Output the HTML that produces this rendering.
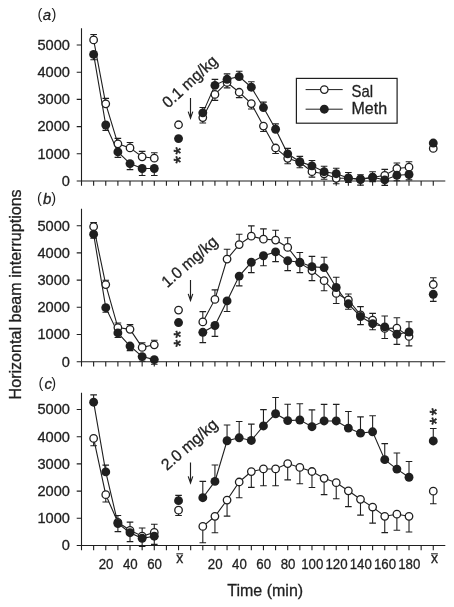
<!DOCTYPE html>
<html><head><meta charset="utf-8"><title>Figure</title>
<style>html,body{margin:0;padding:0;background:#fff}svg{display:block}</style></head>
<body>
<svg width="454" height="607" viewBox="0 0 454 607" font-family="'Liberation Sans', sans-serif" fill="#1f1f1f" stroke="#1f1f1f" stroke-width="0">
<style>text{stroke:#1f1f1f;stroke-width:0.3px}</style>
<rect width="454" height="607" fill="#fff"/>
<g stroke="#1f1f1f" stroke-width="1.1" fill="none">
<path d="M81.50 28.14V181.00H445.3"/>
<path d="M81.50 181.00v4.8M93.63 181.00v4.8M105.76 181.00v4.8M117.89 181.00v4.8M130.02 181.00v4.8M142.15 181.00v4.8M154.28 181.00v4.8M166.41 181.00v4.8M178.54 181.00v4.8M190.67 181.00v4.8M202.80 181.00v4.8M214.93 181.00v4.8M227.06 181.00v4.8M239.19 181.00v4.8M251.32 181.00v4.8M263.45 181.00v4.8M275.58 181.00v4.8M287.71 181.00v4.8M299.84 181.00v4.8M311.97 181.00v4.8M324.10 181.00v4.8M336.23 181.00v4.8M348.36 181.00v4.8M360.49 181.00v4.8M372.62 181.00v4.8M384.75 181.00v4.8M396.88 181.00v4.8M409.01 181.00v4.8M421.14 181.00v4.8M433.27 181.00v4.8M81.50 181.00h-4.8M81.50 153.80h-4.8M81.50 126.60h-4.8M81.50 99.40h-4.8M81.50 72.20h-4.8M81.50 45.00h-4.8"/>
</g>
<text transform="translate(69.9 185.80) scale(0.975 1)" font-size="15" text-anchor="end">0</text>
<text transform="translate(69.9 158.60) scale(0.975 1)" font-size="15" text-anchor="end">1000</text>
<text transform="translate(69.9 131.40) scale(0.975 1)" font-size="15" text-anchor="end">2000</text>
<text transform="translate(69.9 104.20) scale(0.975 1)" font-size="15" text-anchor="end">3000</text>
<text transform="translate(69.9 77.00) scale(0.975 1)" font-size="15" text-anchor="end">4000</text>
<text transform="translate(69.9 49.80) scale(0.975 1)" font-size="15" text-anchor="end">5000</text>
<text x="37.60" y="19.40" font-size="14.6" style="stroke-width:0">(</text>
<text x="47.00" y="20.40" font-size="15" font-style="italic" text-anchor="middle">a</text>
<text x="56.40" y="19.40" font-size="14.6" text-anchor="end" style="stroke-width:0">)</text>
<g stroke="#1f1f1f" stroke-width="1.1" fill="none">
<path d="M93.63 39.91V34.49M90.33 34.49h6.60M93.63 54.40V59.82M90.33 59.82h6.60M105.76 103.81V98.39M102.46 98.39h6.60M105.76 125.00V130.42M102.46 130.42h6.60M117.89 143.81V138.39M114.59 138.39h6.60M117.89 151.91V157.33M114.59 157.33h6.60M130.02 147.90V142.48M126.72 142.48h6.60M130.02 163.62V169.58M126.72 169.58h6.60M142.15 156.81V151.39M138.85 151.39h6.60M142.15 168.52V175.57M138.85 175.57h6.60M154.28 158.20V152.78M150.98 152.78h6.60M154.28 168.52V175.57M150.98 175.57h6.60M202.80 117.60V123.02M199.50 123.02h6.60M202.80 112.86V107.44M199.50 107.44h6.60M214.93 94.40V100.37M211.63 100.37h6.60M214.93 85.38V79.42M211.63 79.42h6.60M227.06 82.48V87.90M223.76 87.90h6.60M227.06 79.31V73.89M223.76 73.89h6.60M239.19 92.24V97.66M235.89 97.66h6.60M239.19 76.65V71.23M235.89 71.23h6.60M251.32 103.62V109.04M248.02 109.04h6.60M251.32 87.22V81.80M248.02 81.80h6.60M263.45 126.08V131.50M260.15 131.50h6.60M263.45 107.57V102.15M260.15 102.15h6.60M275.58 148.01V153.43M272.28 153.43h6.60M275.58 129.25V123.83M272.28 123.83h6.60M287.71 158.33V163.75M284.41 163.75h6.60M287.71 153.83V148.41M284.41 148.41h6.60M299.84 162.29V167.71M296.54 167.71h6.60M299.84 161.77V156.35M296.54 156.35h6.60M311.97 171.69V177.11M308.67 177.11h6.60M311.97 165.87V160.45M308.67 160.45h6.60M324.10 173.81V179.23M320.80 179.23h6.60M324.10 171.69V166.27M320.80 166.27h6.60M336.23 178.30V183.72M332.93 183.72h6.60M336.23 173.72V168.31M332.93 168.31h6.60M348.36 178.30V182.37M345.06 182.37h6.60M348.36 177.93V172.51M345.06 172.51h6.60M360.49 178.87V174.81M357.19 174.81h6.60M360.49 179.69V185.11M357.19 185.11h6.60M372.62 177.52V181.58M369.32 181.58h6.60M372.62 177.11V171.69M369.32 171.69h6.60M384.75 175.35V169.39M381.45 169.39h6.60M384.75 179.96V185.38M381.45 185.38h6.60M396.88 168.49V163.07M393.58 163.07h6.60M396.88 175.30V180.72M393.58 180.72h6.60M409.01 167.22V161.80M405.71 161.80h6.60M409.01 174.48V179.90M405.71 179.90h6.60"/>
<polyline points="93.63,39.91 105.76,103.81 117.89,143.81 130.02,147.90 142.15,156.81 154.28,158.20"/>
<polyline points="202.80,117.60 214.93,94.40 227.06,82.48 239.19,92.24 251.32,103.62 263.45,126.08 275.58,148.01 287.71,158.33 299.84,162.29 311.97,171.69 324.10,173.81 336.23,178.30 348.36,178.30 360.49,178.87 372.62,177.52 384.75,175.35 396.88,168.49 409.01,167.22"/>
<polyline points="93.63,54.40 105.76,125.00 117.89,151.91 130.02,163.62 142.15,168.52 154.28,168.52"/>
<polyline points="202.80,112.86 214.93,85.38 227.06,79.31 239.19,76.65 251.32,87.22 263.45,107.57 275.58,129.25 287.71,153.83 299.84,161.77 311.97,165.87 324.10,171.69 336.23,173.72 348.36,177.93 360.49,179.69 372.62,177.11 384.75,179.96 396.88,175.30 409.01,174.48"/>
</g>
<g fill="#fff" stroke="#1f1f1f" stroke-width="1.3">
<circle cx="93.63" cy="39.91" r="3.75"/>
<circle cx="105.76" cy="103.81" r="3.75"/>
<circle cx="117.89" cy="143.81" r="3.75"/>
<circle cx="130.02" cy="147.90" r="3.75"/>
<circle cx="142.15" cy="156.81" r="3.75"/>
<circle cx="154.28" cy="158.20" r="3.75"/>
<circle cx="178.54" cy="124.76" r="3.75"/>
<circle cx="202.80" cy="117.60" r="3.75"/>
<circle cx="214.93" cy="94.40" r="3.75"/>
<circle cx="227.06" cy="82.48" r="3.75"/>
<circle cx="239.19" cy="92.24" r="3.75"/>
<circle cx="251.32" cy="103.62" r="3.75"/>
<circle cx="263.45" cy="126.08" r="3.75"/>
<circle cx="275.58" cy="148.01" r="3.75"/>
<circle cx="287.71" cy="158.33" r="3.75"/>
<circle cx="299.84" cy="162.29" r="3.75"/>
<circle cx="311.97" cy="171.69" r="3.75"/>
<circle cx="324.10" cy="173.81" r="3.75"/>
<circle cx="336.23" cy="178.30" r="3.75"/>
<circle cx="348.36" cy="178.30" r="3.75"/>
<circle cx="360.49" cy="178.87" r="3.75"/>
<circle cx="372.62" cy="177.52" r="3.75"/>
<circle cx="384.75" cy="175.35" r="3.75"/>
<circle cx="396.88" cy="168.49" r="3.75"/>
<circle cx="409.01" cy="167.22" r="3.75"/>
<circle cx="433.27" cy="148.39" r="3.75"/>
</g>
<g fill="#1f1f1f">
<circle cx="93.63" cy="54.40" r="4.45"/>
<circle cx="105.76" cy="125.00" r="4.45"/>
<circle cx="117.89" cy="151.91" r="4.45"/>
<circle cx="130.02" cy="163.62" r="4.45"/>
<circle cx="142.15" cy="168.52" r="4.45"/>
<circle cx="154.28" cy="168.52" r="4.45"/>
<circle cx="178.54" cy="138.60" r="4.45"/>
<circle cx="202.80" cy="112.86" r="4.45"/>
<circle cx="214.93" cy="85.38" r="4.45"/>
<circle cx="227.06" cy="79.31" r="4.45"/>
<circle cx="239.19" cy="76.65" r="4.45"/>
<circle cx="251.32" cy="87.22" r="4.45"/>
<circle cx="263.45" cy="107.57" r="4.45"/>
<circle cx="275.58" cy="129.25" r="4.45"/>
<circle cx="287.71" cy="153.83" r="4.45"/>
<circle cx="299.84" cy="161.77" r="4.45"/>
<circle cx="311.97" cy="165.87" r="4.45"/>
<circle cx="324.10" cy="171.69" r="4.45"/>
<circle cx="336.23" cy="173.72" r="4.45"/>
<circle cx="348.36" cy="177.93" r="4.45"/>
<circle cx="360.49" cy="179.69" r="4.45"/>
<circle cx="372.62" cy="177.11" r="4.45"/>
<circle cx="384.75" cy="179.96" r="4.45"/>
<circle cx="396.88" cy="175.30" r="4.45"/>
<circle cx="409.01" cy="174.48" r="4.45"/>
<circle cx="433.27" cy="143.07" r="4.45"/>
</g>
<g stroke="#1f1f1f" stroke-width="1.1" fill="none">
<path d="M81.50 208.84V361.70H445.3"/>
<path d="M81.50 361.70v4.8M93.63 361.70v4.8M105.76 361.70v4.8M117.89 361.70v4.8M130.02 361.70v4.8M142.15 361.70v4.8M154.28 361.70v4.8M166.41 361.70v4.8M178.54 361.70v4.8M190.67 361.70v4.8M202.80 361.70v4.8M214.93 361.70v4.8M227.06 361.70v4.8M239.19 361.70v4.8M251.32 361.70v4.8M263.45 361.70v4.8M275.58 361.70v4.8M287.71 361.70v4.8M299.84 361.70v4.8M311.97 361.70v4.8M324.10 361.70v4.8M336.23 361.70v4.8M348.36 361.70v4.8M360.49 361.70v4.8M372.62 361.70v4.8M384.75 361.70v4.8M396.88 361.70v4.8M409.01 361.70v4.8M421.14 361.70v4.8M433.27 361.70v4.8M81.50 361.70h-4.8M81.50 334.50h-4.8M81.50 307.30h-4.8M81.50 280.10h-4.8M81.50 252.90h-4.8M81.50 225.70h-4.8"/>
</g>
<text transform="translate(69.9 366.50) scale(0.975 1)" font-size="15" text-anchor="end">0</text>
<text transform="translate(69.9 339.30) scale(0.975 1)" font-size="15" text-anchor="end">1000</text>
<text transform="translate(69.9 312.10) scale(0.975 1)" font-size="15" text-anchor="end">2000</text>
<text transform="translate(69.9 284.90) scale(0.975 1)" font-size="15" text-anchor="end">3000</text>
<text transform="translate(69.9 257.70) scale(0.975 1)" font-size="15" text-anchor="end">4000</text>
<text transform="translate(69.9 230.50) scale(0.975 1)" font-size="15" text-anchor="end">5000</text>
<text x="36.90" y="203.30" font-size="14.6" style="stroke-width:0">(</text>
<text x="47.20" y="204.30" font-size="15" font-style="italic" text-anchor="middle">b</text>
<text x="56.10" y="203.30" font-size="14.6" text-anchor="end" style="stroke-width:0">)</text>
<g stroke="#1f1f1f" stroke-width="1.1" fill="none">
<path d="M93.63 226.71V222.64M90.33 222.64h6.60M93.63 234.16V238.23M90.33 238.23h6.60M105.76 284.56V280.22M102.46 280.22h6.60M105.76 307.70V312.32M102.46 312.32h6.60M117.89 327.59V322.97M114.59 322.97h6.60M117.89 332.91V337.53M114.59 337.53h6.60M130.02 329.35V324.60M126.72 324.60h6.60M130.02 346.03V350.64M126.72 350.64h6.60M142.15 347.39V342.77M138.85 342.77h6.60M142.15 356.62V361.24M138.85 361.24h6.60M154.28 344.81V340.19M150.98 340.19h6.60M154.28 359.61V364.22M150.98 364.22h6.60M202.80 321.94V311.62M199.50 311.62h6.60M202.80 332.31V342.63M199.50 342.63h6.60M214.93 299.39V289.89M211.63 289.89h6.60M214.93 325.49V336.36M211.63 336.36h6.60M227.06 259.06V249.28M223.76 249.28h6.60M227.06 300.91V311.51M223.76 311.51h6.60M239.19 244.61V234.29M235.89 234.29h6.60M239.19 276.12V285.90M235.89 285.90h6.60M251.32 236.19V225.87M248.02 225.87h6.60M251.32 262.27V272.59M248.02 272.59h6.60M263.45 239.15V228.83M260.15 228.83h6.60M263.45 255.75V265.80M260.15 265.80h6.60M275.58 240.05V230.27M272.28 230.27h6.60M275.58 251.89V261.67M272.28 261.67h6.60M287.71 247.46V237.69M284.41 237.69h6.60M287.71 260.80V270.58M284.41 270.58h6.60M299.84 262.86V272.64M296.54 272.64h6.60M299.84 262.27V252.49M296.54 252.49h6.60M311.97 270.58V280.63M308.67 280.63h6.60M311.97 266.72V256.40M308.67 256.40h6.60M324.10 280.65V290.70M320.80 290.70h6.60M324.10 267.62V257.30M320.80 257.30h6.60M336.23 293.39V303.44M332.93 303.44h6.60M336.23 287.50V277.18M332.93 277.18h6.60M348.36 299.91V293.93M345.06 293.93h6.60M348.36 303.79V309.23M345.06 309.23h6.60M360.49 314.79V306.65M357.19 306.65h6.60M360.49 316.50V324.65M357.19 324.65h6.60M372.62 320.12V313.33M369.32 313.33h6.60M372.62 323.70V329.68M369.32 329.68h6.60M384.75 328.40V338.45M381.45 338.45h6.60M384.75 326.91V316.04M381.45 316.04h6.60M396.88 328.10V317.78M393.58 317.78h6.60M396.88 334.29V344.34M393.58 344.34h6.60M409.01 336.41V345.92M405.71 345.92h6.60M409.01 332.01V321.69M405.71 321.69h6.60M433.27 284.51V277.72M429.97 277.72h6.60M433.27 294.29V301.35M429.97 301.35h6.60"/>
<polyline points="93.63,226.71 105.76,284.56 117.89,327.59 130.02,329.35 142.15,347.39 154.28,344.81"/>
<polyline points="202.80,321.94 214.93,299.39 227.06,259.06 239.19,244.61 251.32,236.19 263.45,239.15 275.58,240.05 287.71,247.46 299.84,262.86 311.97,270.58 324.10,280.65 336.23,293.39 348.36,299.91 360.49,314.79 372.62,320.12 384.75,328.40 396.88,328.10 409.01,336.41"/>
<polyline points="93.63,234.16 105.76,307.70 117.89,332.91 130.02,346.03 142.15,356.62 154.28,359.61"/>
<polyline points="202.80,332.31 214.93,325.49 227.06,300.91 239.19,276.12 251.32,262.27 263.45,255.75 275.58,251.89 287.71,260.80 299.84,262.27 311.97,266.72 324.10,267.62 336.23,287.50 348.36,303.79 360.49,316.50 372.62,323.70 384.75,326.91 396.88,334.29 409.01,332.01"/>
</g>
<g fill="#fff" stroke="#1f1f1f" stroke-width="1.3">
<circle cx="93.63" cy="226.71" r="3.75"/>
<circle cx="105.76" cy="284.56" r="3.75"/>
<circle cx="117.89" cy="327.59" r="3.75"/>
<circle cx="130.02" cy="329.35" r="3.75"/>
<circle cx="142.15" cy="347.39" r="3.75"/>
<circle cx="154.28" cy="344.81" r="3.75"/>
<circle cx="178.54" cy="310.12" r="3.75"/>
<circle cx="202.80" cy="321.94" r="3.75"/>
<circle cx="214.93" cy="299.39" r="3.75"/>
<circle cx="227.06" cy="259.06" r="3.75"/>
<circle cx="239.19" cy="244.61" r="3.75"/>
<circle cx="251.32" cy="236.19" r="3.75"/>
<circle cx="263.45" cy="239.15" r="3.75"/>
<circle cx="275.58" cy="240.05" r="3.75"/>
<circle cx="287.71" cy="247.46" r="3.75"/>
<circle cx="299.84" cy="262.86" r="3.75"/>
<circle cx="311.97" cy="270.58" r="3.75"/>
<circle cx="324.10" cy="280.65" r="3.75"/>
<circle cx="336.23" cy="293.39" r="3.75"/>
<circle cx="348.36" cy="299.91" r="3.75"/>
<circle cx="360.49" cy="314.79" r="3.75"/>
<circle cx="372.62" cy="320.12" r="3.75"/>
<circle cx="384.75" cy="328.40" r="3.75"/>
<circle cx="396.88" cy="328.10" r="3.75"/>
<circle cx="409.01" cy="336.41" r="3.75"/>
<circle cx="433.27" cy="284.51" r="3.75"/>
</g>
<g fill="#1f1f1f">
<circle cx="93.63" cy="234.16" r="4.45"/>
<circle cx="105.76" cy="307.70" r="4.45"/>
<circle cx="117.89" cy="332.91" r="4.45"/>
<circle cx="130.02" cy="346.03" r="4.45"/>
<circle cx="142.15" cy="356.62" r="4.45"/>
<circle cx="154.28" cy="359.61" r="4.45"/>
<circle cx="178.54" cy="322.53" r="4.45"/>
<circle cx="202.80" cy="332.31" r="4.45"/>
<circle cx="214.93" cy="325.49" r="4.45"/>
<circle cx="227.06" cy="300.91" r="4.45"/>
<circle cx="239.19" cy="276.12" r="4.45"/>
<circle cx="251.32" cy="262.27" r="4.45"/>
<circle cx="263.45" cy="255.75" r="4.45"/>
<circle cx="275.58" cy="251.89" r="4.45"/>
<circle cx="287.71" cy="260.80" r="4.45"/>
<circle cx="299.84" cy="262.27" r="4.45"/>
<circle cx="311.97" cy="266.72" r="4.45"/>
<circle cx="324.10" cy="267.62" r="4.45"/>
<circle cx="336.23" cy="287.50" r="4.45"/>
<circle cx="348.36" cy="303.79" r="4.45"/>
<circle cx="360.49" cy="316.50" r="4.45"/>
<circle cx="372.62" cy="323.70" r="4.45"/>
<circle cx="384.75" cy="326.91" r="4.45"/>
<circle cx="396.88" cy="334.29" r="4.45"/>
<circle cx="409.01" cy="332.01" r="4.45"/>
<circle cx="433.27" cy="294.29" r="4.45"/>
</g>
<g stroke="#1f1f1f" stroke-width="1.1" fill="none">
<path d="M81.50 392.64V545.50H445.3"/>
<path d="M81.50 545.50v4.8M93.63 545.50v4.8M105.76 545.50v4.8M117.89 545.50v4.8M130.02 545.50v4.8M142.15 545.50v4.8M154.28 545.50v4.8M166.41 545.50v4.8M178.54 545.50v4.8M190.67 545.50v4.8M202.80 545.50v4.8M214.93 545.50v4.8M227.06 545.50v4.8M239.19 545.50v4.8M251.32 545.50v4.8M263.45 545.50v4.8M275.58 545.50v4.8M287.71 545.50v4.8M299.84 545.50v4.8M311.97 545.50v4.8M324.10 545.50v4.8M336.23 545.50v4.8M348.36 545.50v4.8M360.49 545.50v4.8M372.62 545.50v4.8M384.75 545.50v4.8M396.88 545.50v4.8M409.01 545.50v4.8M421.14 545.50v4.8M433.27 545.50v4.8M81.50 545.50h-4.8M81.50 518.30h-4.8M81.50 491.10h-4.8M81.50 463.90h-4.8M81.50 436.70h-4.8M81.50 409.50h-4.8"/>
</g>
<text transform="translate(69.9 550.30) scale(0.975 1)" font-size="15" text-anchor="end">0</text>
<text transform="translate(69.9 523.10) scale(0.975 1)" font-size="15" text-anchor="end">1000</text>
<text transform="translate(69.9 495.90) scale(0.975 1)" font-size="15" text-anchor="end">2000</text>
<text transform="translate(69.9 468.70) scale(0.975 1)" font-size="15" text-anchor="end">3000</text>
<text transform="translate(69.9 441.50) scale(0.975 1)" font-size="15" text-anchor="end">4000</text>
<text transform="translate(69.9 414.30) scale(0.975 1)" font-size="15" text-anchor="end">5000</text>
<text x="38.40" y="387.80" font-size="14.6" style="stroke-width:0">(</text>
<text x="48.20" y="388.80" font-size="15" font-style="italic" text-anchor="middle">c</text>
<text x="56.10" y="387.80" font-size="14.6" text-anchor="end" style="stroke-width:0">)</text>
<g stroke="#1f1f1f" stroke-width="1.1" fill="none">
<path d="M93.63 438.39V445.73M90.33 445.73h6.60M93.63 402.21V394.87M90.33 394.87h6.60M105.76 494.72V502.06M102.46 502.06h6.60M105.76 471.90V465.10M102.46 465.10h6.60M117.89 522.30V515.50M114.59 515.50h6.60M117.89 523.50V531.66M114.59 531.66h6.60M130.02 530.30V522.14M126.72 522.14h6.60M130.02 532.69V541.66M126.72 541.66h6.60M142.15 536.22V528.06M138.85 528.06h6.60M142.15 538.32V546.48M138.85 546.48h6.60M154.28 532.39V524.23M150.98 524.23h6.60M154.28 536.22V544.38M150.98 544.38h6.60M178.54 510.14V515.44M175.24 515.44h6.60M178.54 500.65V495.34M175.24 495.34h6.60M202.80 526.46V542.78M199.50 542.78h6.60M202.80 497.71V481.39M199.50 481.39h6.60M214.93 516.37V532.69M211.63 532.69h6.60M214.93 481.39V465.07M211.63 465.07h6.60M227.06 500.05V516.10M223.76 516.10h6.60M227.06 440.75V424.98M223.76 424.98h6.60M239.19 481.99V497.76M235.89 497.76h6.60M239.19 437.79V421.47M235.89 421.47h6.60M251.32 471.60V487.37M248.02 487.37h6.60M251.32 440.45V424.13M248.02 424.13h6.60M263.45 468.93V485.80M260.15 485.80h6.60M263.45 425.93V409.61M260.15 409.61h6.60M275.58 468.93V485.80M272.28 485.80h6.60M275.58 413.77V397.45M272.28 397.45h6.60M287.71 463.60V479.92M284.41 479.92h6.60M287.71 420.60V404.28M284.41 404.28h6.60M299.84 467.44V483.76M296.54 483.76h6.60M299.84 420.00V403.68M296.54 403.68h6.60M311.97 471.49V487.54M308.67 487.54h6.60M311.97 426.72V409.85M308.67 409.85h6.60M324.10 478.29V494.61M320.80 494.61h6.60M324.10 420.95V404.36M320.80 404.36h6.60M336.23 482.70V498.74M332.93 498.74h6.60M336.23 420.95V404.36M332.93 404.36h6.60M348.36 490.83V506.60M345.06 506.60h6.60M348.36 428.08V411.49M345.06 411.49h6.60M360.49 499.31V515.09M357.19 515.09h6.60M360.49 433.16V416.84M357.19 416.84h6.60M372.62 507.12V523.17M369.32 523.17h6.60M372.62 431.80V415.76M369.32 415.76h6.60M384.75 516.29V532.61M381.45 532.61h6.60M384.75 459.63V443.58M381.45 443.58h6.60M396.88 514.22V530.27M393.58 530.27h6.60M396.88 469.12V453.07M393.58 453.07h6.60M409.01 516.29V532.06M405.71 532.06h6.60M409.01 477.26V461.48M405.71 461.48h6.60M433.27 491.18V503.69M429.97 503.69h6.60M433.27 440.97V428.46M429.97 428.46h6.60"/>
<polyline points="93.63,438.39 105.76,494.72 117.89,522.30 130.02,530.30 142.15,536.22 154.28,532.39"/>
<polyline points="202.80,526.46 214.93,516.37 227.06,500.05 239.19,481.99 251.32,471.60 263.45,468.93 275.58,468.93 287.71,463.60 299.84,467.44 311.97,471.49 324.10,478.29 336.23,482.70 348.36,490.83 360.49,499.31 372.62,507.12 384.75,516.29 396.88,514.22 409.01,516.29"/>
<polyline points="93.63,402.21 105.76,471.90 117.89,523.50 130.02,532.69 142.15,538.32 154.28,536.22"/>
<polyline points="202.80,497.71 214.93,481.39 227.06,440.75 239.19,437.79 251.32,440.45 263.45,425.93 275.58,413.77 287.71,420.60 299.84,420.00 311.97,426.72 324.10,420.95 336.23,420.95 348.36,428.08 360.49,433.16 372.62,431.80 384.75,459.63 396.88,469.12 409.01,477.26"/>
</g>
<g fill="#fff" stroke="#1f1f1f" stroke-width="1.3">
<circle cx="93.63" cy="438.39" r="3.75"/>
<circle cx="105.76" cy="494.72" r="3.75"/>
<circle cx="117.89" cy="522.30" r="3.75"/>
<circle cx="130.02" cy="530.30" r="3.75"/>
<circle cx="142.15" cy="536.22" r="3.75"/>
<circle cx="154.28" cy="532.39" r="3.75"/>
<circle cx="178.54" cy="510.14" r="3.75"/>
<circle cx="202.80" cy="526.46" r="3.75"/>
<circle cx="214.93" cy="516.37" r="3.75"/>
<circle cx="227.06" cy="500.05" r="3.75"/>
<circle cx="239.19" cy="481.99" r="3.75"/>
<circle cx="251.32" cy="471.60" r="3.75"/>
<circle cx="263.45" cy="468.93" r="3.75"/>
<circle cx="275.58" cy="468.93" r="3.75"/>
<circle cx="287.71" cy="463.60" r="3.75"/>
<circle cx="299.84" cy="467.44" r="3.75"/>
<circle cx="311.97" cy="471.49" r="3.75"/>
<circle cx="324.10" cy="478.29" r="3.75"/>
<circle cx="336.23" cy="482.70" r="3.75"/>
<circle cx="348.36" cy="490.83" r="3.75"/>
<circle cx="360.49" cy="499.31" r="3.75"/>
<circle cx="372.62" cy="507.12" r="3.75"/>
<circle cx="384.75" cy="516.29" r="3.75"/>
<circle cx="396.88" cy="514.22" r="3.75"/>
<circle cx="409.01" cy="516.29" r="3.75"/>
<circle cx="433.27" cy="491.18" r="3.75"/>
</g>
<g fill="#1f1f1f">
<circle cx="93.63" cy="402.21" r="4.45"/>
<circle cx="105.76" cy="471.90" r="4.45"/>
<circle cx="117.89" cy="523.50" r="4.45"/>
<circle cx="130.02" cy="532.69" r="4.45"/>
<circle cx="142.15" cy="538.32" r="4.45"/>
<circle cx="154.28" cy="536.22" r="4.45"/>
<circle cx="178.54" cy="500.65" r="4.45"/>
<circle cx="202.80" cy="497.71" r="4.45"/>
<circle cx="214.93" cy="481.39" r="4.45"/>
<circle cx="227.06" cy="440.75" r="4.45"/>
<circle cx="239.19" cy="437.79" r="4.45"/>
<circle cx="251.32" cy="440.45" r="4.45"/>
<circle cx="263.45" cy="425.93" r="4.45"/>
<circle cx="275.58" cy="413.77" r="4.45"/>
<circle cx="287.71" cy="420.60" r="4.45"/>
<circle cx="299.84" cy="420.00" r="4.45"/>
<circle cx="311.97" cy="426.72" r="4.45"/>
<circle cx="324.10" cy="420.95" r="4.45"/>
<circle cx="336.23" cy="420.95" r="4.45"/>
<circle cx="348.36" cy="428.08" r="4.45"/>
<circle cx="360.49" cy="433.16" r="4.45"/>
<circle cx="372.62" cy="431.80" r="4.45"/>
<circle cx="384.75" cy="459.63" r="4.45"/>
<circle cx="396.88" cy="469.12" r="4.45"/>
<circle cx="409.01" cy="477.26" r="4.45"/>
<circle cx="433.27" cy="440.97" r="4.45"/>
</g>
<path d="M190.50 97.9V118.60M188.20 111.60L190.50 118.20L192.80 111.60" stroke="#1f1f1f" stroke-width="1.15" stroke-linejoin="miter" fill="none"/>
<text transform="translate(168.20 108.80) rotate(-42.7) scale(0.975 1)" font-size="16">0.1 mg/kg</text>
<path d="M190.50 280.0V300.90M188.20 293.90L190.50 300.50L192.80 293.90" stroke="#1f1f1f" stroke-width="1.15" stroke-linejoin="miter" fill="none"/>
<text transform="translate(167.20 288.30) rotate(-41) scale(0.975 1)" font-size="16">1.0 mg/kg</text>
<path d="M190.50 462.6V483.40M188.20 476.40L190.50 483.00L192.80 476.40" stroke="#1f1f1f" stroke-width="1.15" stroke-linejoin="miter" fill="none"/>
<text transform="translate(167.00 471.00) rotate(-41) scale(0.975 1)" font-size="16">2.0 mg/kg</text>
<text transform="translate(178.20 150.80) rotate(-90)" font-size="19" text-anchor="middle" x="0" y="8.9" style="stroke-width:0.6px">*</text>
<text transform="translate(178.20 159.80) rotate(-90)" font-size="19" text-anchor="middle" x="0" y="8.9" style="stroke-width:0.6px">*</text>
<text transform="translate(178.20 334.40) rotate(-90)" font-size="19" text-anchor="middle" x="0" y="8.9" style="stroke-width:0.6px">*</text>
<text transform="translate(178.20 343.40) rotate(-90)" font-size="19" text-anchor="middle" x="0" y="8.9" style="stroke-width:0.6px">*</text>
<text transform="translate(433.60 411.80) rotate(-90)" font-size="19" text-anchor="middle" x="0" y="8.9" style="stroke-width:0.6px">*</text>
<text transform="translate(433.60 421.00) rotate(-90)" font-size="19" text-anchor="middle" x="0" y="8.9" style="stroke-width:0.6px">*</text>
<rect x="296.4" y="78.4" width="100.7" height="44.8" fill="#fff" stroke="#1f1f1f" stroke-width="1.2"/>
<path d="M305.6 89.6H342.7M305.6 109.2H342.7" stroke="#1f1f1f" stroke-width="1"/>
<circle cx="324.3" cy="89.6" r="3.75" fill="#fff" stroke="#1f1f1f" stroke-width="1.3"/>
<circle cx="324.3" cy="109.2" r="4.45" fill="#1f1f1f"/>
<text transform="translate(351.6 96.7) scale(0.93 1)" font-size="16">Sal</text>
<text x="351.5" y="114.1" font-size="16">Meth</text>
<text transform="translate(106.06 569.3) scale(0.885 1)" font-size="15" text-anchor="middle">20</text>
<text transform="translate(130.32 569.3) scale(0.885 1)" font-size="15" text-anchor="middle">40</text>
<text transform="translate(154.58 569.3) scale(0.885 1)" font-size="15" text-anchor="middle">60</text>
<text transform="translate(215.23 569.3) scale(0.885 1)" font-size="15" text-anchor="middle">20</text>
<text transform="translate(239.49 569.3) scale(0.885 1)" font-size="15" text-anchor="middle">40</text>
<text transform="translate(263.75 569.3) scale(0.885 1)" font-size="15" text-anchor="middle">60</text>
<text transform="translate(288.01 569.3) scale(0.885 1)" font-size="15" text-anchor="middle">80</text>
<text transform="translate(312.27 569.3) scale(0.885 1)" font-size="15" text-anchor="middle">100</text>
<text transform="translate(336.53 569.3) scale(0.885 1)" font-size="15" text-anchor="middle">120</text>
<text transform="translate(360.79 569.3) scale(0.885 1)" font-size="15" text-anchor="middle">140</text>
<text transform="translate(385.05 569.3) scale(0.885 1)" font-size="15" text-anchor="middle">160</text>
<text transform="translate(409.31 569.3) scale(0.885 1)" font-size="15" text-anchor="middle">180</text>
<text x="179.74" y="563.4" font-size="14" text-anchor="middle">x</text>
<path d="M176.34 553.8h6.8" stroke="#1f1f1f" stroke-width="1"/>
<text x="434.47" y="563.4" font-size="14" text-anchor="middle">x</text>
<path d="M431.07 553.8h6.8" stroke="#1f1f1f" stroke-width="1"/>
<text x="227.3" y="596.3" font-size="16">Time (min)</text>
<text transform="translate(20.7 399.4) rotate(-90) scale(1.006 1)" font-size="16">Horizontal beam interruptions</text>
</svg>
</body></html>
